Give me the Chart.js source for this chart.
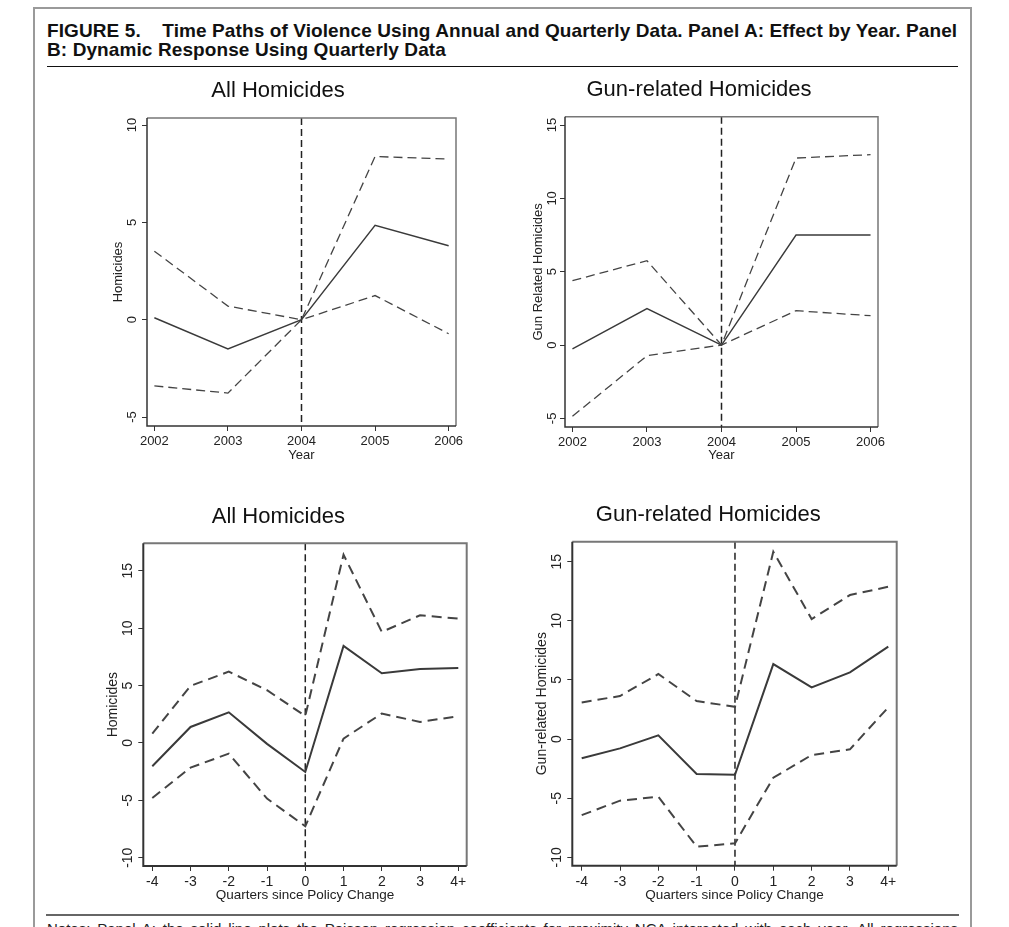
<!DOCTYPE html>
<html>
<head>
<meta charset="utf-8">
<script src="https://cdn.jsdelivr.net/npm/chart.js@4.4.1/dist/chart.umd.min.js"></script>
<style>
  body { margin: 0; background: #fff; overflow: hidden; font-family: "Liberation Sans", Arial, sans-serif; }
  #page { position: relative; width: 1009px; height: 927px; overflow: hidden; }
  #frame { position: absolute; left: 33px; top: 7px; width: 935px; height: 960px; border: 2px solid #9a9a9a; border-bottom: none; }
  #head { position: absolute; left: 47px; top: 21px; font-weight: bold; font-size: 19px; letter-spacing: 0.1px; line-height: 19px; color: #111; white-space: nowrap; }
  #headRule { position: absolute; left: 47px; top: 66px; width: 911px; height: 1px; background: #111; }
  #footRule { position: absolute; left: 46px; top: 914px; width: 913px; height: 2px; background: #666; }
  #notes { position: absolute; left: 47px; top: 920px; width: 911px; font-size: 15px; line-height: 18px; color: #222; text-align: justify; text-align-last: justify; white-space: nowrap; }
  canvas { position: absolute; }
</style>
</head>
<body>
<div id="page">
  <div id="frame"></div>
  <div id="head">FIGURE 5.&nbsp;&nbsp;&nbsp; Time Paths of Violence Using Annual and Quarterly Data. Panel A: Effect by Year. Panel<br>B: Dynamic Response Using Quarterly Data</div>
  <div id="headRule"></div>
  <canvas id="c1" width="370" height="400" style="left:100px;top:70px"></canvas>
  <canvas id="c2" width="370" height="400" style="left:520px;top:70px"></canvas>
  <canvas id="c3" width="390" height="420" style="left:90px;top:490px"></canvas>
  <canvas id="c4" width="390" height="420" style="left:520px;top:490px"></canvas>
  <div id="footRule"></div>
  <div id="notes">Notes: Panel A: the solid line plots the Poisson regression coefficients for proximity NCA interacted with each year. All regressions</div>
</div>
<script>
// Panel A: effect by year
const years = [2002, 2003, 2004, 2005, 2006];
const yearLabels = ["2002", "2003", "2004", "2005", "2006"];
const allYearEst = [0.1, -1.5, 0, 4.85, 3.8];
const allYearHi = [3.52, 0.7, 0, 8.38, 8.25];
const allYearLo = [-3.4, -3.77, 0, 1.24, -0.72];
const gunYearEst = [-0.27, 2.48, 0, 7.5, 7.5];
const gunYearHi = [4.39, 5.75, 0, 12.75, 12.98];
const gunYearLo = [-4.86, -0.73, 0, 2.34, 2.0];

// Panel B: dynamic response by quarter
const quarters = [-4, -3, -2, -1, 0, 1, 2, 3, 4];
const quarterLabels = ["-4", "-3", "-2", "-1", "0", "1", "2", "3", "4+"];
const allQtrEst = [-2.03, 1.39, 2.67, -0.08, -2.53, 8.45, 6.07, 6.45, 6.53];
const allQtrHi = [0.81, 4.97, 6.21, 4.59, 2.35, 16.4, 9.67, 11.12, 10.83];
const allQtrLo = [-4.79, -2.15, -0.93, -4.85, -7.26, 0.38, 2.56, 1.83, 2.32];
const gunQtrEst = [-1.63, -0.79, 0.31, -2.96, -3.02, 6.34, 4.37, 5.64, 7.81];
const gunQtrHi = [3.1, 3.64, 5.5, 3.21, 2.73, 15.84, 10.15, 12.18, 12.88];
const gunQtrLo = [-6.43, -5.21, -4.88, -9.1, -8.82, -3.27, -1.35, -0.87, 2.68];

// y tick values
const allYearTicks = [-5, 0, 5, 10];
const gunYearTicks = [-5, 0, 5, 10, 15];
const qtrTicks = [-10, -5, 0, 5, 10, 15];

const policyYear = 2004;
const policyQuarter = 0;

const FONT = '"Liberation Sans", Arial, sans-serif';

function pts(xs, ys) {
  return xs.map((x, i) => ({ x: x, y: ys[i] }));
}

// box round plot, dashed policy line, rotated y tick labels (Stata style)
const stataPlugin = {
  id: "stata",
  beforeDatasetsDraw(chart, args, opts) {
    const { ctx, chartArea: a } = chart;
    const xs = chart.scales.x;
    ctx.save();
    ctx.setLineDash(opts.refDash);
    ctx.strokeStyle = "#222";
    ctx.lineWidth = opts.refWidth;
    const px = xs.getPixelForValue(opts.refX);
    ctx.beginPath();
    ctx.moveTo(px, a.top);
    ctx.lineTo(px, a.bottom);
    ctx.stroke();
    ctx.restore();
  },
  afterDraw(chart, args, opts) {
    const { ctx, chartArea: a } = chart;
    const ys = chart.scales.y;
    ctx.save();
    ctx.lineWidth = opts.boxWidth;
    ctx.strokeStyle = "#777";
    ctx.beginPath();
    ctx.moveTo(a.left, a.top);
    ctx.lineTo(a.right, a.top);
    ctx.lineTo(a.right, a.bottom);
    ctx.stroke();
    ctx.strokeStyle = "#333";
    ctx.beginPath();
    ctx.moveTo(a.left, a.top);
    ctx.lineTo(a.left, a.bottom);
    ctx.lineTo(a.right, a.bottom);
    ctx.stroke();
    ctx.fillStyle = "#222";
    ctx.font = opts.tickSize + "px " + FONT;
    ctx.textAlign = "center";
    ctx.textBaseline = "middle";
    ys.ticks.forEach(t => {
      const py = ys.getPixelForValue(t.value);
      ctx.save();
      ctx.translate(ys.right - opts.labelGap, py);
      ctx.rotate(-Math.PI / 2);
      ctx.fillText(String(t.value), 0, 0);
      ctx.restore();
    });
    ctx.restore();
  }
};

function makePanel(id, p) {
  const solid = { borderColor: "#3a3a3a", borderWidth: p.lineW, pointRadius: 0, tension: 0 };
  const dash = { borderColor: "#444", borderWidth: p.dashW, borderDash: p.dash, pointRadius: 0, tension: 0 };
  new Chart(document.getElementById(id), {
    type: "line",
    data: {
      datasets: [
        Object.assign({ data: pts(p.xs, p.hi) }, dash),
        Object.assign({ data: pts(p.xs, p.est) }, solid),
        Object.assign({ data: pts(p.xs, p.lo) }, dash)
      ]
    },
    plugins: [stataPlugin],
    options: {
      responsive: false,
      animation: false,
      events: [],
      layout: { padding: { left: 0, top: 0, right: p.padRight, bottom: 0 } },
      plugins: {
        legend: { display: false },
        tooltip: { enabled: false },
        title: {
          display: true,
          text: p.title,
          color: "#111",
          font: { family: FONT, size: 22, weight: "normal", lineHeight: 1.2 },
          padding: p.titlePad
        },
        stata: {
          refX: p.refX, refDash: p.refDash, refWidth: p.refW,
          boxWidth: p.boxW, tickSize: p.yTickSize, labelGap: p.labelGap
        }
      },
      scales: {
        x: {
          type: "linear",
          min: p.xMin,
          max: p.xMax,
          afterBuildTicks: s => { s.ticks = p.xs.map(v => ({ value: v })); },
          afterFit: s => { s.height = p.xH; s.paddingLeft = 0; s.paddingRight = 0; },
          grid: { drawOnChartArea: false, drawTicks: true, tickLength: 5, color: "#333", lineWidth: 1 },
          border: { display: false },
          ticks: {
            autoSkip: false, maxRotation: 0, minRotation: 0, padding: p.xTickPad,
            color: "#222", font: { family: FONT, size: p.xTickSize },
            callback: (v, i) => p.xLabels[i]
          },
          title: {
            display: true, text: p.xTitle, color: "#222",
            font: { family: FONT, size: p.xTitleSize, lineHeight: 1.2 },
            padding: { top: 0, bottom: p.xTitleBottom }
          }
        },
        y: {
          min: p.yMin,
          max: p.yMax,
          afterBuildTicks: s => { s.ticks = p.yTicks.map(v => ({ value: v })); },
          afterFit: s => { s.width = p.yW; s.paddingTop = 0; s.paddingBottom = 0; },
          grid: { drawOnChartArea: false, drawTicks: true, tickLength: 5, color: "#333", lineWidth: 1 },
          border: { display: false },
          ticks: { display: false },
          title: {
            display: true, text: p.yTitle, color: "#222",
            font: { family: FONT, size: p.yTitleSize, lineHeight: 1.2 },
            padding: { top: p.yTitleTop, bottom: 0 }
          }
        }
      }
    }
  });
}

const topStyle = {
  lineW: 1.4, dashW: 1.3, dash: [9, 5], refDash: [7, 4], refW: 1.5, boxW: 1.5,
  xTickSize: 13, xTitleSize: 13, yTitleSize: 13, yTickSize: 13, xTickPad: 3, xTitleBottom: 7.2
};
const bottomStyle = {
  lineW: 2, dashW: 2, dash: [10, 6], refDash: [7, 4], refW: 1.5, boxW: 2,
  xTickSize: 14, xTitleSize: 13.5, yTitleSize: 14, yTickSize: 14, xTickPad: 3, xTitleBottom: 6.9
};

makePanel("c1", Object.assign({}, topStyle, {
  title: "All Homicides", titlePad: { top: 7.4, bottom: 14.2 },
  xs: years, xLabels: yearLabels, xMin: 2001.9, xMax: 2006.1,
  yTicks: allYearTicks, yMin: -5.46, yMax: 10.36,
  est: allYearEst, hi: allYearHi, lo: allYearLo, refX: policyYear,
  xTitle: "Year", yTitle: "Homicides",
  yW: 47, xH: 44, padRight: 14, yTitleTop: 10.2, labelGap: 15
}));

makePanel("c2", Object.assign({}, topStyle, {
  title: "Gun-related Homicides", titlePad: { top: 6.8, bottom: 13.5 },
  xs: years, xLabels: yearLabels, xMin: 2001.9, xMax: 2006.1,
  yTicks: gunYearTicks, yMin: -5.59, yMax: 15.57,
  est: gunYearEst, hi: gunYearHi, lo: gunYearLo, refX: policyYear,
  xTitle: "Year", yTitle: "Gun Related Homicides",
  yW: 45, xH: 43, padRight: 12, yTitleTop: 11, labelGap: 13
}));

makePanel("c3", Object.assign({}, bottomStyle, {
  title: "All Homicides", titlePad: { top: 13.8, bottom: 13.1 },
  xs: quarters, xLabels: quarterLabels, xMin: -4.235, xMax: 4.22,
  yTicks: qtrTicks, yMin: -10.72, yMax: 17.39,
  est: allQtrEst, hi: allQtrHi, lo: allQtrLo, refX: policyQuarter,
  xTitle: "Quarters since Policy Change", yTitle: "Homicides",
  yW: 53.3, xH: 44, padRight: 13.3, yTitleTop: 14.6, labelGap: 15
}));

makePanel("c4", Object.assign({}, bottomStyle, {
  title: "Gun-related Homicides", titlePad: { top: 11.8, bottom: 13.5 },
  xs: quarters, xLabels: quarterLabels, xMin: -4.245, xMax: 4.22,
  yTicks: qtrTicks, yMin: -10.71, yMax: 16.69,
  est: gunQtrEst, hi: gunQtrHi, lo: gunQtrLo, refX: policyQuarter,
  xTitle: "Quarters since Policy Change", yTitle: "Gun-related Homicides",
  yW: 52.3, xH: 44.3, padRight: 13.3, yTitleTop: 13.6, labelGap: 15
}));
</script>
</body>
</html>
